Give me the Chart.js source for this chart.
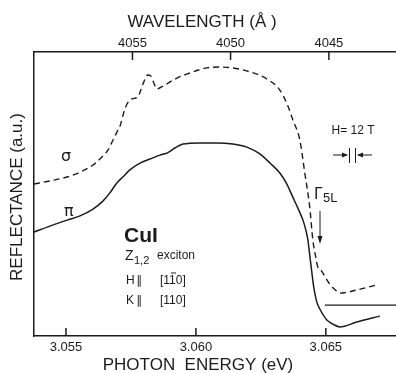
<!DOCTYPE html>
<html>
<head>
<meta charset="utf-8">
<script src="https://cdn.jsdelivr.net/npm/chart.js@4.4.0/dist/chart.umd.min.js"></script>
<style>
    html, body { margin: 0; padding: 0; background: #fff; }
    #wrap { width: 396px; height: 373px; }
</style>
</head>
<body>
<div id="wrap"><canvas id="reflChart" width="396" height="373"></canvas></div>
<script>
const HC = 12398.4; // eV * Angstrom
const INK = '#1b1b1b';

// sigma polarisation (dashed curve)
const sigmaEnergy = [3.05377, 3.05438, 3.05504, 3.05554, 3.05604, 3.05638, 3.05662, 3.05681, 3.05696, 3.05708,
    3.05723, 3.05735, 3.05754, 3.05777, 3.05796, 3.05815, 3.05827, 3.05838, 3.0585, 3.05873,
    3.05927, 3.05977, 3.06042, 3.06092, 3.06142, 3.06208, 3.06273, 3.06323, 3.06354, 3.06373,
    3.064, 3.06419, 3.06438, 3.0645, 3.06462, 3.06469, 3.06481, 3.06488, 3.06515, 3.06542,
    3.06554, 3.06619, 3.06696];
const sigmaRefl = [53.5, 54.6, 56.0, 57.7, 60.2, 63.0, 65.5, 69.0, 71.8, 73.9,
    78.9, 81.7, 83.5, 84.2, 88.7, 91.9, 91.5, 89.1, 87.0, 88.0,
    90.8, 92.6, 94.4, 94.7, 94.4, 93.0, 90.5, 86.6, 81.0, 76.1,
    69.0, 57.4, 45.4, 33.8, 27.5, 24.3, 23.2, 22.2, 18.3, 15.8,
    15.1, 16.2, 18.0];

// pi polarisation (solid curve)
const piEnergy = [3.05377, 3.05438, 3.05504, 3.05554, 3.05604, 3.05642, 3.05669, 3.05696, 3.05719, 3.05746,
    3.05785, 3.05823, 3.05862, 3.05888, 3.05919, 3.0595, 3.06015, 3.06081, 3.06142, 3.06196,
    3.06246, 3.06285, 3.06323, 3.0635, 3.06373, 3.06392, 3.06412, 3.06423, 3.06431, 3.06438,
    3.06446, 3.06454, 3.06465, 3.06477, 3.06504, 3.06527, 3.06554, 3.06619, 3.06708];
const piRefl = [36.6, 38.7, 40.8, 42.3, 44.7, 47.5, 50.4, 53.9, 56.0, 58.5,
    60.9, 62.3, 63.7, 64.4, 66.2, 67.6, 68.0, 68.0, 67.6, 66.5,
    64.1, 60.9, 57.4, 53.5, 48.9, 45.1, 40.8, 37.3, 33.8, 28.5,
    22.5, 16.9, 12.0, 9.5, 5.6, 4.2, 3.2, 4.9, 7.0];

// flat reference level at the right
const baseEnergy = [3.06496, 3.0677];
const baseRefl = [10.9, 10.9];

const energyTicks = [3.055, 3.060, 3.065];
const wavelengthTicks = [4055, 4050, 4045];

const E_MIN = 3.05377;
const E_MAX = 3.0677;

function toXY(xs, ys) {
    return xs.map((x, i) => ({ x: x, y: ys[i] }));
}

function line(ctx, x1, y1, x2, y2) {
    ctx.beginPath();
    ctx.moveTo(x1, y1);
    ctx.lineTo(x2, y2);
    ctx.stroke();
}

// tick marks pointing into the plot
const innerTicks = {
    id: 'innerTicks',
    afterDraw(chart) {
        const ctx = chart.ctx;
        const area = chart.chartArea;
        ctx.save();
        ctx.strokeStyle = INK;
        ctx.lineWidth = 1.5;
        chart.scales.x.ticks.forEach(t => {
            const px = chart.scales.x.getPixelForValue(t.value);
            line(ctx, px, area.bottom, px, area.bottom - 8);
        });
        chart.scales.x2.ticks.forEach(t => {
            const px = chart.scales.x2.getPixelForValue(t.value);
            line(ctx, px, area.top, px, area.top + 8);
        });
        ctx.restore();
    }
};

// axis titles and labels written on the figure
const notes = {
    id: 'notes',
    afterDraw(chart) {
        const ctx = chart.ctx;
        ctx.save();
        ctx.fillStyle = INK;
        ctx.strokeStyle = INK;
        ctx.textBaseline = 'middle';

        // axis titles (placed off-centre, as in the original)
        ctx.textAlign = 'center';
        ctx.font = '17px "Liberation Sans"';
        ctx.fillText('WAVELENGTH (\u00c5 )', 202, 22);
        ctx.fillText('PHOTON  ENERGY (eV)', 198, 365);
        ctx.save();
        ctx.translate(17, 197);
        ctx.rotate(-Math.PI / 2);
        ctx.fillText('REFLECTANCE (a.u.)', 0, 0);
        ctx.restore();

        ctx.textAlign = 'left';
        ctx.font = '16px "DejaVu Sans"';
        ctx.fillText('\u03c3', 61, 157);
        ctx.fillText('\u03c0', 64, 212);

        // field
        ctx.textAlign = 'center';
        ctx.font = '12px "Liberation Sans"';
        ctx.fillText('H= 12 T', 353, 131);
        ctx.lineWidth = 1;
        line(ctx, 333, 155, 347, 155);
        line(ctx, 358, 155, 372, 155);
        line(ctx, 349.5, 148, 349.5, 163);
        line(ctx, 355.5, 148, 355.5, 163);
        ctx.beginPath();
        ctx.moveTo(348, 155); ctx.lineTo(342, 152.5); ctx.lineTo(342, 157.5); ctx.closePath(); ctx.fill();
        ctx.beginPath();
        ctx.moveTo(357, 155); ctx.lineTo(363, 152.5); ctx.lineTo(363, 157.5); ctx.closePath(); ctx.fill();

        // Gamma 5L marker
        ctx.textAlign = 'left';
        ctx.font = '15px "DejaVu Sans"';
        ctx.fillText('\u0393', 314, 195);
        ctx.font = '13px "Liberation Sans"';
        ctx.fillText('5L', 323, 198);
        line(ctx, 320, 211, 320, 240);
        ctx.beginPath();
        ctx.moveTo(320, 244); ctx.lineTo(317.5, 236); ctx.lineTo(322.5, 236); ctx.closePath(); ctx.fill();

        // sample info
        ctx.font = 'bold 21px "Liberation Sans"';
        ctx.fillText('CuI', 124, 236);
        ctx.font = '14px "Liberation Sans"';
        ctx.fillText('Z', 125, 256);
        ctx.font = '11px "Liberation Sans"';
        ctx.fillText('1,2', 134, 261);
        ctx.font = '12px "Liberation Sans"';
        ctx.fillText('exciton', 157, 256);

        ctx.font = '12px "Liberation Sans"';
        ctx.fillText('H', 126, 281);
        ctx.fillText('K', 126, 301);
        ctx.font = '12px "DejaVu Sans"';
        ctx.fillText('\u2225', 136, 281);
        ctx.fillText('\u2225', 136, 301);
        ctx.font = '12px "Liberation Sans"';
        ctx.fillText('[110]', 160, 281);
        ctx.fillText('[110]', 160, 301);
        ctx.lineWidth = 1;
        line(ctx, 171, 273, 176, 273);
        ctx.restore();
    }
};

const axisFont = { family: '"Liberation Sans"', size: 13 };

const ctx = document.getElementById('reflChart').getContext('2d');
new Chart(ctx, {
    type: 'line',
    data: {
        datasets: [{
            label: 'sigma',
            data: toXY(sigmaEnergy, sigmaRefl),
            borderColor: INK,
            borderWidth: 1.4,
            borderDash: [6, 4],
            pointRadius: 0,
            cubicInterpolationMode: 'monotone'
        }, {
            label: 'pi',
            data: toXY(piEnergy, piRefl),
            borderColor: INK,
            borderWidth: 1.5,
            pointRadius: 0,
            cubicInterpolationMode: 'monotone'
        }, {
            label: 'base',
            data: toXY(baseEnergy, baseRefl),
            borderColor: INK,
            borderWidth: 1.2,
            pointRadius: 0
        }]
    },
    options: {
        responsive: false,
        animation: false,
        devicePixelRatio: 1,
        layout: { padding: 0 },
        plugins: {
            legend: { display: false },
            tooltip: { enabled: false }
        },
        scales: {
            x: {
                type: 'linear',
                position: 'bottom',
                min: E_MIN,
                max: E_MAX,
                afterBuildTicks: s => { s.ticks = energyTicks.map(v => ({ value: v })); },
                afterFit: s => { s.height = 37; },
                ticks: {
                    callback: v => v.toFixed(3),
                    font: axisFont,
                    color: INK,
                    padding: 4,
                    maxRotation: 0,
                    autoSkip: false
                },
                grid: { display: false, drawTicks: false, tickLength: 0 },
                border: { display: true, color: INK, width: 1.5 }
            },
            x2: {
                type: 'linear',
                axis: 'x',
                position: 'top',
                min: E_MIN,
                max: E_MAX,
                afterBuildTicks: s => { s.ticks = wavelengthTicks.map(w => ({ value: HC / w })); },
                afterFit: s => { s.height = 52; },
                ticks: {
                    callback: (v, i) => String(wavelengthTicks[i]),
                    font: axisFont,
                    color: INK,
                    padding: 1,
                    maxRotation: 0,
                    autoSkip: false
                },
                grid: { display: false, drawTicks: false, tickLength: 0 },
                border: { display: true, color: INK, width: 1.5 }
            },
            y: {
                min: 0,
                max: 100,
                afterFit: s => { s.width = 34; },
                ticks: { display: false },
                grid: { display: false, drawTicks: false, tickLength: 0 },
                border: { display: true, color: INK, width: 1.5 }
            }
        }
    },
    plugins: [innerTicks, notes]
});
</script>
</body>
</html>
